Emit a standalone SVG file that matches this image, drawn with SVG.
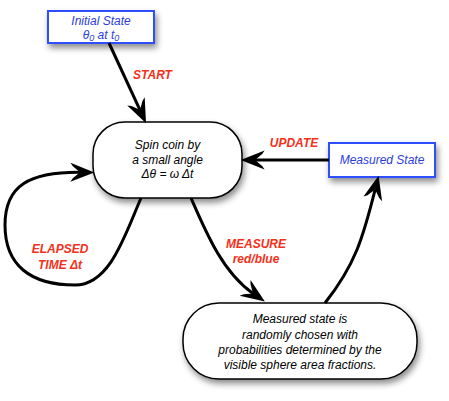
<svg xmlns="http://www.w3.org/2000/svg" width="449" height="401" viewBox="0 0 449 401">
<style>
.t{font-family:"Liberation Sans",Arial,sans-serif;font-style:italic;font-size:12px;text-anchor:middle;fill:#000}
.b{fill:#2a3ce0}
.lbl{font-family:"Liberation Sans",Arial,sans-serif;font-style:italic;font-weight:bold;font-size:12px;text-anchor:middle;fill:#f5301a}
.box{fill:#fff;stroke:#2f4fff;stroke-width:2}
.pill{fill:#fff;stroke:#000;stroke-width:1.5}
.c{fill:none;stroke:#000;stroke-width:3}
</style>
<defs>
<filter id="sh" x="-20%" y="-20%" width="150%" height="160%">
<feDropShadow dx="2" dy="4" stdDeviation="3" flood-color="#000" flood-opacity="0.45"/>
</filter>
<marker id="ah" markerUnits="userSpaceOnUse" markerWidth="30" markerHeight="30" viewBox="-10 -10 25 20" refX="0" refY="0" orient="auto">
<path d="M12,0 L-8,-8 L-6,-5 L0,0 L-6,5 L-8,8 Z" fill="#000"/>
</marker>
</defs>
<g id="initial-state">
<rect class="box" x="48" y="11" width="106" height="32" filter="url(#sh)"/>
<text class="t b" x="101" y="24.5">Initial State</text>
<text class="t b" x="101" y="39">θ<tspan font-size="9" dy="2">0</tspan><tspan dy="-2"> at t</tspan><tspan font-size="9" dy="2">0</tspan></text>
</g>
<g id="spin-coin">
<rect class="pill" x="93" y="122" width="149" height="76" rx="32" ry="32" filter="url(#sh)"/>
<text class="t" x="167.5" y="149">Spin coin by</text>
<text class="t" x="167.5" y="163.5">a small angle</text>
<text class="t" x="167.5" y="178">Δθ = ω Δt</text>
</g>
<g id="measured-state">
<rect class="box" x="329" y="143" width="106" height="34" filter="url(#sh)"/>
<text class="t b" x="382" y="164">Measured State</text>
</g>
<g id="measurement">
<rect class="pill" x="183" y="303" width="234" height="76" rx="36" ry="36" filter="url(#sh)"/>
<text class="t" x="300" y="323">Measured state is</text>
<text class="t" x="300" y="338.5">randomly chosen with</text>
<text class="t" x="300" y="353.5">probabilities determined by the</text>
<text class="t" x="300" y="368.5">visible sphere area fractions.</text>
</g>
<g id="connectors">
<path class="c" d="M109,43 L140,110.1" marker-end="url(#ah)"/>
<path class="c" d="M329,160 L255,160" marker-end="url(#ah)"/>
<path class="c" d="M325,303 C355,265 363,238 375.1,189.6" marker-end="url(#ah)"/>
<path class="c" d="M191,198 C205,230 222,272 253,293.4" marker-end="url(#ah)"/>
<path class="c" d="M141,198 C125,235 110,285 75,285 C30,285 5,265 5,225 C5,185 30,172 80,172.3" marker-end="url(#ah)"/>
<text class="lbl" x="152.5" y="79">START</text>
<text class="lbl" x="294" y="147">UPDATE</text>
<text class="lbl" x="256" y="248">MEASURE</text>
<text class="lbl" x="256" y="263">red/blue</text>
<text class="lbl" x="60" y="253">ELAPSED</text>
<text class="lbl" x="60" y="269">TIME Δt</text>
</g>
</svg>
